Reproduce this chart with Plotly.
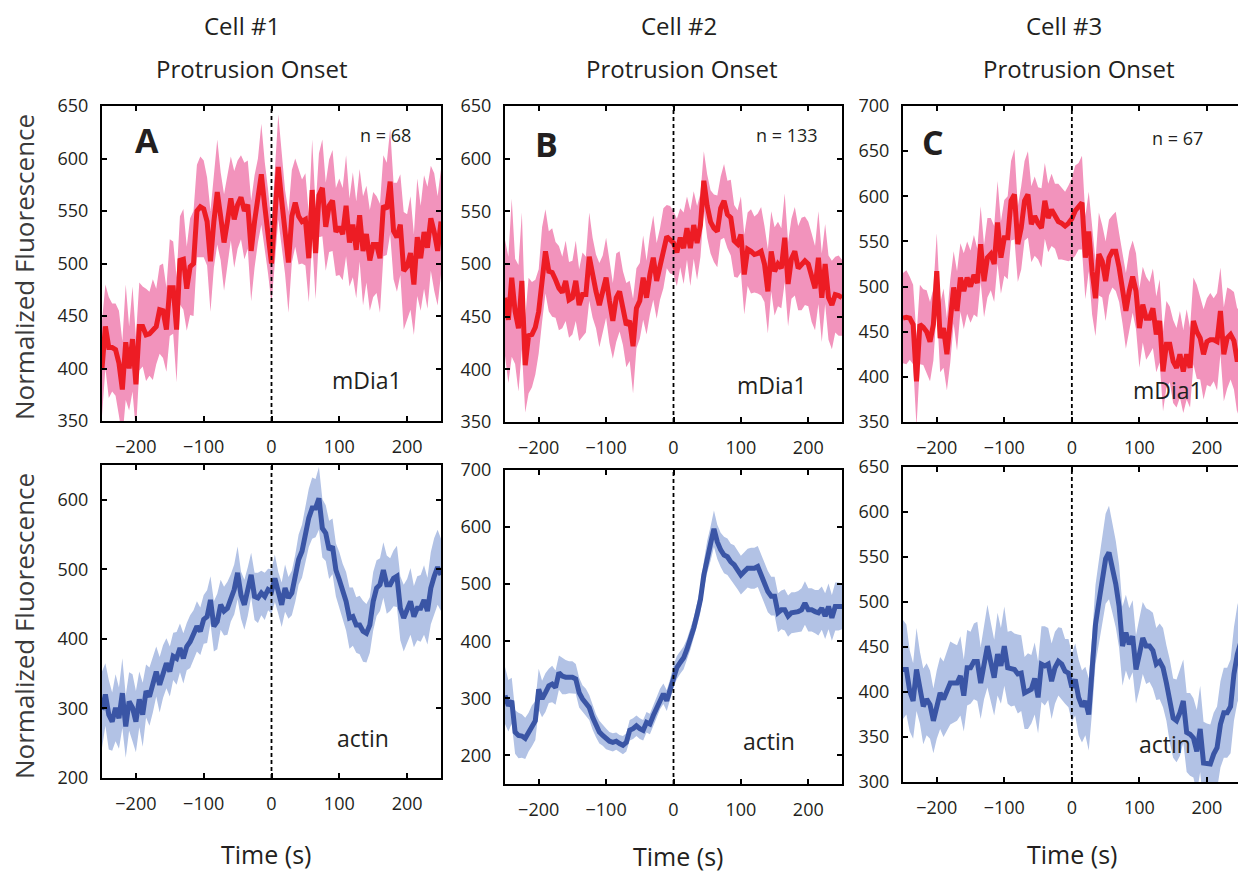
import plotly.graph_objects as go

# ---------------- data ----------------
time_s = list(range(-250, 251, 5))
tick_vals = [-200, -100, 0, 100, 200]
tick_text = ["\u2212200", "\u2212100", "0", "100", "200"]

cell_titles = ["Cell #1", "Cell #2", "Cell #3"]
panel_letters = ["A", "B", "C"]
n_labels = ["n = 68", "n = 133", "n = 67"]

# mDia1 (top row) mean and spread
mdia_A = [400, 440, 420, 420, 418, 405, 380, 425, 400, 428,
          385, 440, 440, 432, 433, 437, 440, 456, 455, 437,
          477, 477, 437, 503, 504, 476, 497, 500, 550, 554,
          552, 540, 502, 540, 568, 545, 520, 540, 562, 542,
          556, 563, 550, 556, 512, 540, 560, 585, 555, 530,
          500,
          545, 592, 560, 530, 501, 545, 558, 545, 540, 542,
          505, 570, 510, 565, 572, 535, 555, 560, 530, 535,
          528, 555, 520, 537, 513, 546, 512, 528, 503, 518,
          518, 505, 555, 552, 578, 531, 525, 537, 493, 497,
          510, 480, 525, 505, 530, 515, 543, 530, 512, 540]
mdia_A_err = [45, 40, 48, 42, 44, 50, 46, 55, 40, 50, 45,
              42, 38, 44, 40, 48, 36, 42, 45, 40, 46,
              44, 50, 42, 48, 40, 46, 50, 44, 48, 46,
              42, 48, 44, 50, 42, 46, 44, 40, 46, 42,
              40, 46, 42, 48, 44, 40, 48, 42, 40, 38,
              44, 50, 46, 40, 48, 44, 42, 46, 40, 44,
              42, 48, 44, 40, 46, 42, 44, 48, 42, 46,
              44, 48, 42, 50, 46, 44, 52, 46, 48, 50,
              46, 52, 48, 44, 50, 46, 52, 48, 56, 50,
              54, 48, 56, 50, 54, 58, 50, 56, 52, 50]

mdia_B = [468, 447, 487, 455, 439, 484, 404, 432, 433, 440,
          455, 490, 512, 493, 492, 485, 477, 473, 484, 466,
          468, 484, 461, 471, 471, 507, 487, 474, 461, 472,
          487, 465, 446, 468, 474, 458, 442, 446, 422, 458,
          465, 487, 468, 490, 506, 484, 500, 515, 526, 523,
          520,
          511, 525, 515, 534, 515, 537, 520, 537, 579, 555,
          540, 534, 531, 553, 560, 547, 544, 522, 519, 528,
          490, 514, 512, 509, 510, 512, 500, 474, 512, 493,
          500, 496, 525, 481, 505, 512, 496, 500, 503, 500,
          487, 477, 506, 468, 500, 468, 461, 471, 470, 468]
mdia_B_err = [55, 60, 75, 50, 60, 65, 45, 55, 50, 45,
              40, 45, 40, 38, 42, 36, 40, 34, 38, 36,
              35, 38, 34, 40, 36, 42, 38, 35, 40, 36,
              38, 40, 36, 42, 38, 35, 40, 38, 45, 38,
              36, 40, 35, 38, 40, 36, 34, 38, 30, 32,
              30,
              32, 28, 34, 30, 36, 32, 35, 30, 28, 30,
              30, 32, 34, 30, 35, 32, 36, 34, 32, 36,
              38, 35, 40, 36, 38, 42, 36, 40, 38, 42,
              40, 38, 42, 40, 38, 42, 40, 44, 42, 40,
              42, 40, 44, 42, 38, 40, 42, 36, 38, 36]

mdia_C = [465, 466, 465, 458, 395, 458, 455, 450, 439, 458,
          517, 443, 454, 425, 462, 499, 473, 510, 495, 510,
          500, 513, 504, 547, 506, 532, 536, 525, 571, 532,
          554, 554, 595, 602, 547, 565, 595, 602, 569, 578,
          570, 565, 595, 576, 585, 578, 572, 570, 567, 570,
          575,
          584, 589, 593, 532, 561, 517, 487, 536, 528, 506,
          532, 539, 539, 521, 499, 473, 495, 511, 495, 454,
          480, 465, 465, 476, 447, 462, 406, 436, 436, 417,
          410, 425, 406, 425, 410, 462, 450, 443, 425, 439,
          441, 441, 439, 473, 425, 443, 447, 440, 417, 432]
mdia_C_err = [50, 52, 46, 44, 50, 44, 42, 46, 44, 40,
              42, 38, 44, 40, 46, 40, 44, 38, 42, 40,
              40, 44, 38, 42, 40, 44, 40, 42, 46, 40,
              42, 46, 44, 50, 42, 46, 44, 48, 42, 44,
              40, 44, 42, 38, 40, 36, 42, 40, 38, 42,
              45,
              50, 48, 52, 46, 44, 48, 42, 46, 40, 44,
              42, 40, 44, 38, 40, 42, 44, 40, 42, 44,
              42, 46, 40, 44, 42, 46, 44, 48, 42, 46,
              44, 48, 46, 50, 44, 48, 52, 46, 50, 48,
              52, 46, 54, 48, 52, 56, 50, 54, 58, 52]

# actin (bottom row) mean and spread
actin_A = [298, 320, 291, 281, 301, 286, 322, 274, 310, 301,
           281, 313, 291, 325, 317, 334, 353, 334, 353, 365,
           353, 375, 372, 387, 372, 389, 396, 406, 418, 411,
           428, 432, 456, 418, 425, 449, 440, 444, 459, 471,
           495, 463, 449, 468, 492, 461, 459, 466, 461, 471,
           468,
           487, 466, 449, 473, 459, 466, 487, 514, 526, 550,
           574, 588, 588, 602, 559, 552, 528, 533, 499, 485,
           468, 454, 430, 432, 420, 420, 411, 408, 420, 454,
           473, 478, 499, 478, 478, 487, 490, 444, 430, 440,
           454, 432, 444, 444, 456, 440, 473, 490, 503, 492]
actin_A_err = [55, 45, 50, 42, 48, 44, 50, 45, 42, 48,
               44, 40, 46, 38, 42, 40, 36, 40, 38, 36,
               36, 34, 38, 35, 36, 34, 38, 35, 36, 34,
               35, 38, 34, 36, 40, 36, 35, 38, 34, 36,
               38, 34, 36, 35, 32, 34, 36, 32, 34, 30,
               32,
               34, 30, 32, 34, 30, 32, 34, 36, 38, 40,
               42, 44, 42, 45, 42, 40, 42, 40, 38, 40,
               40, 42, 44, 42, 40, 42, 44, 42, 40, 42,
               40, 38, 40, 42, 38, 40, 44, 46, 48, 46,
               48, 44, 46, 48, 50, 48, 52, 55, 54, 52]

actin_B = [305, 287, 296, 241, 235, 234, 230, 241, 252, 261,
           316, 299, 310, 322, 325, 319, 345, 339, 337, 337,
           337, 334, 310, 299, 293, 284, 267, 252, 241, 235,
           229, 225, 223, 225, 221, 218, 223, 244, 247, 252,
           247, 244, 258, 255, 270, 284, 299, 308, 296, 316,
           339,
           354, 363, 371, 386, 403, 423, 447, 473, 516, 548,
           571, 597, 574, 560, 551, 548, 539, 534, 525, 516,
           522, 528, 528, 528, 531, 516, 502, 487, 479, 479,
           450, 455, 455, 444, 450, 450, 452, 455, 467, 455,
           455, 452, 450, 458, 444, 461, 441, 461, 461, 461]
actin_B_err = [50, 45, 40, 38, 40, 38, 36, 34, 36, 34,
               36, 32, 34, 30, 32, 30, 30, 32, 30, 28,
               28, 26, 26, 24, 24, 22, 22, 20, 20, 18,
               18, 16, 16, 15, 15, 16, 16, 18, 18, 18,
               18, 18, 18, 18, 18, 18, 18, 18, 18, 18,
               20,
               20, 20, 20, 18, 18, 18, 20, 22, 24, 28,
               30, 32, 30, 30, 32, 32, 32, 34, 34, 34,
               34, 34, 36, 36, 36, 36, 36, 36, 34, 34,
               34, 34, 36, 36, 36, 36, 36, 38, 38, 38,
               38, 38, 40, 38, 40, 40, 40, 42, 42, 40]

actin_C = [425, 425, 401, 390, 425, 405, 384, 392, 386, 368,
           386, 399, 392, 401, 410, 410, 410, 418, 396, 427,
           427, 434, 434, 410, 434, 451, 433, 416, 442, 429,
           451, 427, 426, 425, 420, 421, 399, 401, 403, 415,
           394, 431, 429, 431, 412, 427, 434, 431, 423, 421,
           405,
           414, 394, 384, 390, 375, 420, 475, 500, 525, 548,
           555, 538, 520, 495, 451, 466, 453, 462, 425, 442,
           460, 451, 451, 446, 431, 434, 427, 410, 390, 371,
           368, 377, 390, 355, 353, 349, 334, 359, 321, 321,
           320, 331, 338, 364, 377, 377, 384, 420, 442, 455]
actin_C_err = [55, 50, 45, 42, 46, 40, 42, 40, 38, 36,
               38, 40, 42, 44, 46, 44, 42, 44, 40, 42,
               40, 42, 44, 40, 42, 46, 44, 42, 46, 42,
               44, 40, 42, 40, 44, 42, 40, 42, 38, 40,
               40, 42, 44, 40, 42, 40, 38, 40, 36, 38,
               38,
               40, 42, 40, 38, 40, 42, 44, 46, 48, 50,
               52, 50, 48, 46, 44, 42, 40, 40, 38, 40,
               40, 42, 40, 42, 40, 42, 44, 42, 46, 44,
               46, 48, 46, 44, 46, 44, 46, 48, 46, 44,
               44, 46, 46, 48, 50, 50, 52, 52, 54, 56]

series = [mdia_A, mdia_B, mdia_C, actin_A, actin_B, actin_C]
errors = [mdia_A_err, mdia_B_err, mdia_C_err, actin_A_err, actin_B_err, actin_C_err]
for s, e in zip(series, errors):
    assert len(s) == len(time_s) and len(e) == len(time_s), (len(s), len(e))

# ---------------- styling / layout ----------------
W, H = 1238, 872
FONT = "Open Sans"
RED, PINK = "#ED1C24", "#F293BC"
BLUE, LIGHTBLUE = "#3A55A5", "#B2C2E5"

# the captured picture shows the page slightly squeezed vertically;
# target pixel y -> figure pixel y
Y_OFF, Y_SCALE = 12.0, 848.0 / 872.0


def px(x):
    return x / W


def py(y):
    yf = (y - Y_OFF) / Y_SCALE
    return min(1.0, max(0.0, 1 - yf / H))


# panel pixel boxes in the target picture: (left, right, top, bottom)
boxes = [(102, 441, 105, 420), (505, 842, 105, 421), (903, 1238, 105, 421),
         (102, 441, 464, 777), (505, 842, 469, 783), (903, 1238, 466, 781)]
yranges = [(350, 650), (350, 650), (350, 700), (200, 650), (150, 700), (300, 650)]
ydticks = [50, 50, 50, 100, 100, 50]
xranges = [(-250, 250), (-250, 250), (-250, 246), (-250, 250), (-250, 250), (-250, 246)]

fig = go.Figure()
for i in range(6):
    ax = "" if i == 0 else str(i + 1)
    line_c, band_c = (RED, PINK) if i < 3 else (BLUE, LIGHTBLUE)
    m, e = series[i], errors[i]
    upper = [a + b for a, b in zip(m, e)]
    lower = [a - b for a, b in zip(m, e)]
    fig.add_trace(go.Scatter(x=time_s + time_s[::-1], y=upper + lower[::-1],
                             fill="toself", fillcolor=band_c, line=dict(width=0),
                             mode="lines", hoverinfo="skip", showlegend=False,
                             xaxis="x" + ax, yaxis="y" + ax))
    fig.add_trace(go.Scatter(x=time_s, y=m, mode="lines",
                             line=dict(color=line_c, width=5),
                             showlegend=False, xaxis="x" + ax, yaxis="y" + ax))
    l, r, t, b = boxes[i]
    is_c = (i % 3 == 2)
    fig.layout["xaxis" + ax] = dict(
        domain=[px(l), px(r)], range=list(xranges[i]), anchor="y" + ax,
        tickvals=tick_vals, ticktext=tick_text, ticks="inside", ticklen=5,
        tickwidth=1.5, tickcolor="black",
        showline=True, linecolor="black", linewidth=2, mirror="ticks",
        showgrid=False, zeroline=False, ticklabelstandoff=8,
        tickfont=dict(family=FONT, size=18, color="#231F20"))
    y0, y1 = yranges[i]
    fig.layout["yaxis" + ax] = dict(
        domain=[py(b), py(t)], range=[y0, y1], anchor="x" + ax,
        tick0=0, dtick=ydticks[i], ticks="inside", ticklen=5,
        tickwidth=1.5, tickcolor="black",
        showline=True, linecolor="black", linewidth=2,
        mirror=False if is_c else "ticks",
        showgrid=False, zeroline=False, ticklabelstandoff=8,
        tickfont=dict(family=FONT, size=18, color="#231F20"))
    fig.add_shape(type="line", xref="x" + ax, yref="y" + ax + " domain",
                  x0=0, x1=0, y0=0, y1=1, layer="above",
                  line=dict(color="black", width=1.8, dash="4px,3px"))

annots = []


def txt(text, x, y, size, color="#231F20", bold=False, angle=0):
    annots.append(dict(text=("<b>%s</b>" % text) if bold else text,
                       x=px(x), y=py(y), xref="paper", yref="paper",
                       xanchor="center", yanchor="middle", showarrow=False,
                       textangle=angle,
                       font=dict(family=FONT, size=size, color=color)))


for title, cx, cx2 in zip(cell_titles, [242, 679, 1064], [252, 682, 1079]):
    txt(title, cx, 24, 24)
    txt("Protrusion Onset", cx2, 67, 24)

for letter, (lx, ly) in zip(panel_letters, [(147, 139), (546, 143), (933, 141)]):
    txt(letter, lx, ly, 34, color="#231F20", bold=True)
for nl, (nx, ny) in zip(n_labels, [(385, 134), (787, 134), (1177, 137)]):
    txt(nl, nx, ny, 18)

for x, y in [(367, 379), (772, 384), (1168, 389)]:
    txt("mDia1", x, y, 23)
for x, y in [(363, 737), (769, 740), (1165, 743)]:
    txt("actin", x, y, 23)

txt("Normalized Fluorescence", 24, 266, 26, color="#3A3A3A", angle=-90)
txt("Normalized Fluorescence", 24, 625, 26, color="#3A3A3A", angle=-90)
for x, y in [(266, 853), (678, 855), (1072, 853)]:
    txt("Time (s)", x, y, 25)

fig.update_layout(width=W, height=H, margin=dict(l=0, r=0, t=0, b=0),
                  plot_bgcolor="white", paper_bgcolor="white",
                  annotations=annots, showlegend=False)

fig.write_html("out.html", config={"displayModeBar": False},
               post_script="document.body.style.margin='0';document.documentElement.style.margin='0';")
